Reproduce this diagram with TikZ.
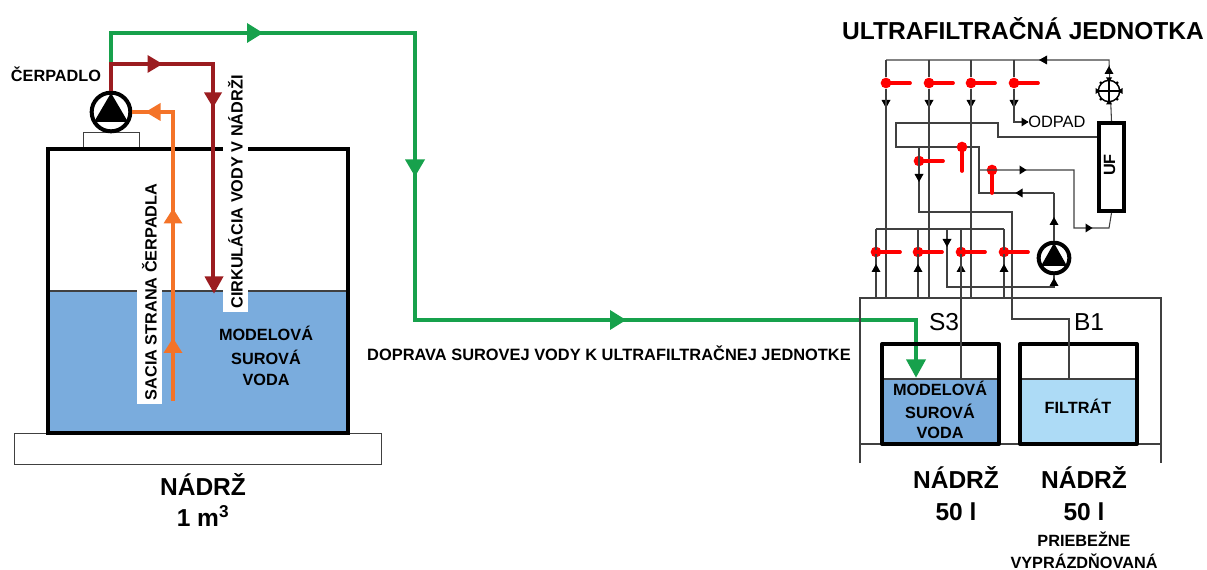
\documentclass[tikz,border=0pt]{standalone}
\usepackage{fontspec}
\setmainfont{Liberation Sans}
\definecolor{grn}{HTML}{17A14C}
\definecolor{drd}{HTML}{9B1C20}
\definecolor{org}{HTML}{F47328}
\definecolor{wat}{HTML}{7AACDD}
\definecolor{flt}{HTML}{ADDBF6}
\definecolor{vred}{HTML}{FF0000}
\definecolor{gw}{HTML}{404040}
\newcommand\tri[6]{\fill[#6,shift={(#1,#2)},rotate=#3] (#4*0.375pt,0pt) -- (-#4*0.375pt,#5*0.75pt) -- (-#4*0.375pt,-#5*0.75pt) -- cycle;}
\newcommand\bt[1]{\fontsize{#1}{#1}\selectfont\bfseries}
\tikzset{
 x=0.75pt,y=-0.75pt,
 wire/.style={draw=gw,line width=0.8pt},
 bigline/.style={line width=2.5pt},
 tank/.style={draw=black,line width=3pt,line join=round},
 flowG/.style={draw=grn,line width=2.8pt},
 flowR/.style={draw=drd,line width=2.8pt},
 flowO/.style={draw=org,line width=2.8pt},
 lab/.style={inner sep=0pt,anchor=base,align=center,font=\bt{12.2}},
 big/.style={inner sep=0pt,anchor=base,font=\bt{18.4}},
 pumpring/.style={circle,draw=black,fill=white,inner sep=0pt,minimum size=#1},
 valve/.style={circle,fill=vred,inner sep=0pt,minimum size=8pt},
 stick/.style={draw=vred,line width=2.8pt,line cap=round},
 plain/.style={inner sep=0pt,anchor=base,font=\fontsize{18.4}{18.4}\selectfont},
 whitelab/.style={fill=white,inner sep=0pt,rotate=90,anchor=center,font=\bt{12.2}},
 gray box/.style={draw=gw,line width=0.8pt},
}
\begin{document}
\begin{tikzpicture}
\useasboundingbox (0,0) rectangle (1207,570);
%% left tank
\node[draw=gw,line width=0.8pt,minimum width=367*0.75pt,minimum height=31*0.75pt,inner sep=0pt,anchor=north west] (base) at (14,433) {};
\node[draw=gw,line width=0.8pt,minimum width=56*0.75pt,minimum height=16*0.75pt,inner sep=0pt,anchor=north west] (stand) at (83,132) {};
\fill[wat] (48,291) rectangle (348,433);
\draw[draw=gw,line width=0.8pt] (48,291) -- (348,291);
\draw[bigline,line join=miter] (48,149) rectangle (348,433);
\node[whitelab,minimum height=25*0.75pt,minimum width=240*0.75pt] (cirk) at (235.5,192) {CIRKULÁCIA VODY V NÁDRŽI};
\node[whitelab,minimum height=25*0.75pt,minimum width=224*0.75pt] (sacia) at (149.5,292) {SACIA STRANA ČERPADLA};
\node[lab] (lmod) at (266,341) {MODELOVÁ};
\node[lab] (lsur) at (266,364) {SUROVÁ};
\node[lab] (lvod) at (266,385) {VODA};
\node[lab] (cerp) at (56,82) {ČERPADLO};
\node[big] (n1) at (203,495) {NÁDRŽ};
\node[big] (n1b) at (203,526) {1 m\textsuperscript{3}};
%% left pump
\node[pumpring=29pt,line width=3pt] (pumpL) at (111,112) {};
\fill[black] (111,93) -- (128,122) -- (94,122) -- cycle;
%% flows
\coordinate (g1) at (111,33);\coordinate (g2) at (415,33);\coordinate (g3) at (415,320);\coordinate (g4) at (916,320);\coordinate (g5) at (916,368);
\coordinate (g0) at (111,64);
\draw[flowG,line join=miter] (g0) -- (g1) -- (g2) -- (g3) -- (g4) -- (g5);
\coordinate (r1) at (111,64);\coordinate (r2) at (213,64);\coordinate (r3) at (213,285);
\draw[flowR,line join=miter] (pumpL.north) -- (r1) -- (r2) -- (r3);
\coordinate (o0) at (173,401);\coordinate (o1) at (173,112);
\draw[flowO,line join=miter] (o0) -- (o1) -- (pumpL.east);
\tri{255}{33}{0}{16}{10}{grn}
\tri{415}{168}{270}{17}{10}{grn}
\tri{618}{320}{0}{16}{10}{grn}
\tri{916}{368.5}{270}{18}{10}{grn}
\tri{155}{64}{0}{15}{9}{drd}
\tri{213}{100}{270}{15}{9}{drd}
\tri{214}{285}{270}{17}{9.5}{drd}
\tri{153}{112}{180}{15}{9}{org}
\tri{173}{216}{90}{15}{9.5}{org}
\tri{173}{345.5}{90}{15}{9.5}{org}
\node[inner sep=0pt,font=\bt{12.3}] (dopr) at (609,353) {DOPRAVA SUROVEJ VODY K ULTRAFILTRAČNEJ JEDNOTKE};
%% right: title
\node[inner sep=0pt,font=\bt{18.4}] (title) at (1023,29) {ULTRAFILTRAČNÁ JEDNOTKA};
%% frame
\draw[gray box] (860,463) -- (860,298) -- (1161,298) -- (1161,463);
\draw[gray box] (860,444) -- (1161,444);
%% tanks
\fill[wat] (882,379) rectangle (999,444);
\fill[flt] (1020,379) rectangle (1137,444);
\draw[wire] (882,379) -- (999,379);
\draw[wire] (1020,379) -- (1137,379);
\coordinate (s3liq) at (961,379);
\coordinate (b1liq) at (1069,379);
\draw[tank] (882,344) rectangle (999,444);
\draw[tank] (1020,344) rectangle (1137,444);
\node[plain] (s3) at (944,330) {S3};
\node[plain] (b1) at (1089,330) {B1};
\node[lab] (tm) at (940,395) {MODELOVÁ};
\node[lab] (ts) at (940,418) {SUROVÁ};
\node[lab] (tv) at (940,438) {VODA};
\node[lab] (fil) at (1078,413) {FILTRÁT};
\node[big] (n2) at (956,488) {NÁDRŽ};
\node[big] (n2b) at (956,520) {50 l};
\node[big] (n3) at (1084,488) {NÁDRŽ};
\node[big] (n3b) at (1084,520) {50 l};
\node[lab] (pr1) at (1084,546) {PRIEBEŽNE};
\node[lab] (pr2) at (1084,568) {VYPRÁZDŇOVANÁ};
%% UF
\node[draw=black,line width=3pt,fill=white,minimum width=25*0.75pt,minimum height=88*0.75pt,inner sep=0pt,anchor=north west] (uf) at (1097,121) {};
\node[rotate=90,inner sep=0pt,font=\bt{12.2}] (uft) at (1109.5,165) {UF};
%% flow meter + top line
\coordinate (tr) at (1109,60);\coordinate (tl) at (886,60);
\draw[wire] (uf.north) -- (tr) -- (tl);
\node[circle,draw=black,fill=white,line width=1.1pt,inner sep=0pt,minimum size=16pt] (fm) at (1109,91) {};
\draw[wire,draw=black] (fm.north) -- (fm.south) (fm.west) -- (fm.east);
\foreach \a in {45,135,225,315}{\fill[black] (fm.\a) circle (1.3pt);}
\tri{1109}{80}{270}{5}{3}{black}
\tri{1109}{102}{90}{5}{3}{black}
\tri{1098}{91}{0}{5}{3}{black}
\tri{1120}{91}{180}{5}{3}{black}
\tri{1109}{70}{90}{8}{4.5}{black}
\tri{1043}{60}{180}{8}{4.5}{black}
%% upper valves
\foreach \n/\xx in {a/886,b/929,c/971,d/1014}{
 \node[valve] (v\n) at (\xx,83) {};
 \coordinate (t\n) at (\xx,60);
 \draw[wire] (t\n) -- (v\n);
 \draw[stick] (v\n.center) -- ++(24,0);
 \tri{\xx}{104}{270}{8}{4.5}{black}
}
%% verticals to frame
\coordinate (fa) at (886,298);\coordinate (fb) at (929,298);\coordinate (fc) at (971,298);
\draw[wire] (va) -- (fa);\draw[wire] (vb) -- (fb);\draw[wire] (vc) -- (fc);
\node[inner sep=0pt,font=\fontsize{12.3}{12.3}\selectfont,anchor=west] (odp) at (1028,122) {ODPAD};
\coordinate (d1) at (1014,122);
\draw[wire] (vd) -- (d1) -- (odp.west);
\tri{1025}{122}{0}{7}{4.5}{black}
%% UF retentate loop
\coordinate (u1) at (998,137);\coordinate (u2) at (998,123);\coordinate (u3) at (896,123);\coordinate (u4) at (896,147);\coordinate (u5) at (979,147);\coordinate (u6) at (979,193);
\coordinate (u7) at (1054,193);
\draw[wire] (uf.west |- u1) -- (u1) -- (u2) -- (u3) -- (u4) -- (u5) -- (u6) -- (u7);
%% valve e,f,g
\node[valve] (ve) at (962,147) {};
\draw[stick] (ve.center) -- ++(0,24);
\node[valve] (vg) at (992,170) {};
\draw[stick] (vg.center) -- ++(0,23);
\coordinate (f1) at (1074,170);\coordinate (f2) at (1074,228);\coordinate (f3) at (1109,228);\coordinate (f0) at (979,170);
\draw[wire] (f0) -- (f1) -- (f2) -- (f3) -- (uf.south);
\tri{1023}{170}{0}{7}{4.5}{black}
\tri{1089}{228}{0}{7}{4.5}{black}
\tri{1019}{193}{180}{7}{4.5}{black}
\node[valve] (vf) at (919,161) {};
\draw[stick] (vf.center) -- ++(24,0);
\coordinate (h0) at (919,147);\coordinate (h1) at (919,212);\coordinate (h2) at (1012,212);\coordinate (h3) at (1012,319);\coordinate (h4) at (1069,319);
\draw[wire] (h0) -- (h1) -- (h2) -- (h3) -- (h4) -- (b1liq);
\tri{919}{178}{270}{8}{4.5}{black}
%% pump right
\node[pumpring=23pt,line width=3pt] (pumpR) at (1054,258) {};
\fill[black] (1054,243) -- (1067,266) -- (1041,266) -- cycle;
\draw[wire] (pumpR.north) -- (u7);
\tri{1054}{221}{90}{8}{4.5}{black}
\coordinate (p1) at (947,287);\coordinate (p2) at (1054,287);\coordinate (p3) at (947,229);
\draw[wire] (p3) -- (p1) -- (p2) -- (pumpR.south);
\tri{1054}{282}{90}{8}{4.5}{black}
\tri{947}{243}{270}{8}{4.5}{black}
%% lower valves
\coordinate (ltop1) at (876,229);\coordinate (ltop2) at (1004,229);
\draw[wire] (ltop1) -- (ltop2);
\foreach \n/\xx in {k/876,l/918,m/961,n/1004}{
 \node[valve] (v\n) at (\xx,252) {};
 \coordinate (w\n) at (\xx,229);
 \draw[wire] (w\n) -- (\xx,298);
 \draw[stick] (v\n.center) -- ++(24,0);
 \tri{\xx}{268}{90}{8}{4.5}{black}
}
\draw[wire] (vm) -- (s3liq);
\end{tikzpicture}
\end{document}
